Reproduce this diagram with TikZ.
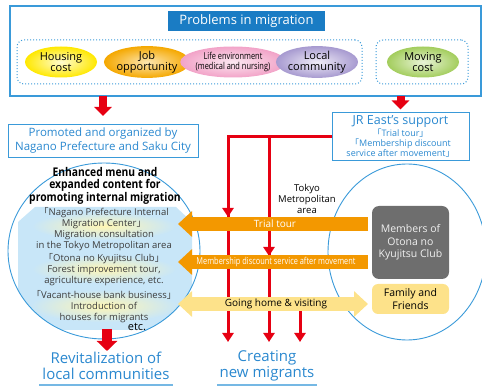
\documentclass[tikz,border=0pt]{standalone}
\usepackage{fontspec}
\setmainfont{Open Sans}
\newfontfamily\cjk{Noto Sans CJK JP}
\usetikzlibrary{arrows.meta,shapes.geometric,calc}
\definecolor{jblue}{HTML}{1A7CC4}
\definecolor{lineblue}{HTML}{3A9AD9}
\definecolor{tblue}{HTML}{2A88CF}
\definecolor{jred}{HTML}{E60012}
\definecolor{jorange}{HTML}{F39800}
\definecolor{jyellow}{HTML}{FDE28A}
\definecolor{lblue}{HTML}{C8E6F8}
\definecolor{jgray}{HTML}{6E6E6E}
\definecolor{dgray}{HTML}{3C3C3C}
\definecolor{hsO}{HTML}{FFE800}\definecolor{hsI}{HTML}{FFFCD0}
\definecolor{jbO}{HTML}{F5A800}\definecolor{jbI}{HTML}{FDE6B0}
\definecolor{lfO}{HTML}{F2A3C8}\definecolor{lfI}{HTML}{FCE8F1}
\definecolor{lcO}{HTML}{A79AD0}\definecolor{lcI}{HTML}{EFEBF7}
\definecolor{mvO}{HTML}{A3CD5D}\definecolor{mvI}{HTML}{E9F4D7}
\definecolor{glowY}{HTML}{FFF6B5}
\newcommand{\jlb}{{\cjk 「}}
\newcommand{\jrb}{{\cjk 」}}
\newcommand{\cond}[1]{\scalebox{0.78}[1]{#1}}
\newcommand{\condb}[1]{\scalebox{0.86}[1]{#1}}
\newcommand{\fs}[2]{\fontsize{#1}{#2}\selectfont}
\begin{document}
\begin{tikzpicture}[x=1pt,y=-1pt,
  every node/.style={inner sep=0pt, outer sep=0pt},
  bubble/.style={ellipse, minimum width=72pt, minimum height=31pt, align=center, shading=radial, font=\fs{11}{11.5}},
  dotbox/.style={draw=lineblue, dotted, line width=1pt, rounded corners=7pt},
  plainbox/.style={draw=lineblue, line width=0.9pt, align=center, text=tblue},
  redline/.style={draw=jred, line width=3pt},
  redtip/.style={-{Triangle[width=11pt,length=9pt]}},
  redblock/.style={draw=jred, line width=8pt, -{Triangle[width=17pt,length=9pt]}},
  orangebar/.style={draw=jorange, line width=14pt, -{Triangle[width=25pt,length=14pt]}},
  yellowbar/.style={draw=jyellow, line width=14pt, {Triangle[width=25pt,length=14pt]}-{Triangle[width=25pt,length=14pt]}},
  glow/.style={shading=radial, inner color=glowY, outer color=lblue},
  circtext/.style={align=center, text=dgray, font=\fs{9.5}{11}},
]
\useasboundingbox (0,0) rectangle (482,387);

% ---------- top box ----------
\node[draw=lineblue, line width=1.3pt, minimum width=471pt, minimum height=90pt] (topbox) at (245.5,51) {};
\node[fill=jblue, text=white, minimum width=157pt, minimum height=20pt, font=\fs{13}{14}] (title) at (246.5,21) {Problems in migration};
\node[dotbox, minimum width=345pt, minimum height=44pt] (grp1) at (189.5,62) {};
\node[dotbox, minimum width=92pt, minimum height=44pt] (grp2) at (422,62) {};

\node[bubble, inner color=hsI, outer color=hsO] (housing) at (61,62) {Housing\\cost};
\node[bubble, inner color=jbI, outer color=jbO] (job) at (147,62) {Job\\opportunity};
\node[bubble, minimum width=86pt, inner color=lfI, outer color=lfO, font=\fs{9.5}{10.5}] (life) at (233,62) {\cond{Life environment}\\\cond{(medical and nursing)}};
\node[bubble, inner color=lcI, outer color=lcO] (local) at (317,62) {Local\\community};
\node[bubble, inner color=mvI, outer color=mvO] (moving) at (423,62) {Moving\\cost};

% ---------- second row ----------
\node[plainbox, minimum width=190pt, minimum height=33pt, font=\fs{11.5}{14}] (prom) at (103,140.5) {Promoted and organized by\\Nagano Prefecture and Saku City};
\node[plainbox, minimum width=137pt, minimum height=48pt, font=\fs{9}{10}] (jr) at (400.5,136.5) {{\fs{12.5}{14}JR East’s support}\\[1pt]\jlb Trial tour\jrb\\\jlb Membership discount\\service after movement\jrb};

\draw[redblock] (topbox.south -| prom) -- ([yshift=8pt]prom.north);
\draw[redblock] (topbox.south -| jr) -- ([yshift=3pt]jr.north);

% ---------- left circle ----------
\node[ellipse, minimum width=192pt, minimum height=176pt] (lc) at (104,251) {};
\begin{scope}
\clip (lc.center) ellipse [x radius=96pt, y radius=88pt];
\fill[lblue] (35,207) -- (176,207) -- (192,222) -- (192,292) -- (168,330) -- (42,330) -- (18,305) -- (18,222) -- cycle;
\shade[glow] (104,226) ellipse [x radius=72pt, y radius=14pt];
\shade[glow] (104,269) ellipse [x radius=72pt, y radius=14pt];
\shade[glow] (104,306) ellipse [x radius=74pt, y radius=16pt];
\end{scope}
\draw[lineblue, line width=0.9pt] (lc.center) ellipse [x radius=96pt, y radius=88pt];

\node[align=center, font=\bfseries\fs{12}{11.5}] (head) at (105,186) {\condb{Enhanced menu and}\\\condb{expanded content for}\\\condb{promoting internal migration}};
\node[circtext] (g1) at (104,229.5) {\jlb Nagano Prefecture Internal\\Migration Center\jrb\\Migration consultation\\in the Tokyo Metropolitan area};
\node[circtext] (g2) at (104,270) {\jlb Otona no Kyujitsu Club\jrb\\Forest improvement tour,\\agriculture experience, etc.};
\node[circtext] (g3) at (104,307) {\jlb Vacant-house bank business\jrb\\Introduction of\\houses for migrants};
\node[font=\fs{11}{12}] (etc) at (137,327) {etc.};

% ---------- right circle ----------
\node[draw=lineblue, line width=0.9pt, ellipse, minimum width=158pt, minimum height=176pt] (rc) at (407,252) {};
\node[fill=jgray, rounded corners=7pt, minimum width=77pt, minimum height=73pt, text=white!88!gray, align=center, font=\fs{10.5}{12.5}] (members) at (410.5,242.5) {Members of\\Otona no\\Kyujitsu Club};
\node[fill=jyellow, rounded corners=6pt, minimum width=77pt, minimum height=30pt, align=center, font=\fs{10.5}{12.5}] (family) at (410.5,299) {Family and\\Friends};

\node[align=center, font=\fs{9.5}{11}] (tokyo) at (307,199) {Tokyo\\Metropolitan\\area};

% ---------- red lines ----------
\coordinate (c1) at (228,342);
\coordinate (c2) at (269,342);
\coordinate (c3) at (300,342);
\coordinate (s3) at (300,311);
\draw[redline, redtip] (jr.west) -| (c1);
\draw[redline, redtip] (jr.west -| c2) -- (c2);
\draw[redline, redtip] (s3) -- (c3);
\draw[redline, redtip] (jr.west -| c1) -- (228,217);
\draw[redline, redtip] (jr.west -| c2) -- (269,256);

% ---------- bars ----------
\coordinate (t1) at (368,224);
\coordinate (t2) at (178,224);
\coordinate (m1) at (368,262);
\coordinate (m2) at (178,262);
\coordinate (h1) at (178,304);
\draw[orangebar] (t1) -- (t2);
\draw[orangebar] (m1) -- (m2);
\draw[yellowbar] (h1) -- ([xshift=-4pt]family.west |- h1);
\node[text=white, font=\fs{10}{11}] (trial) at (275,224) {Trial tour};
\node[text=white, font=\fs{9.5}{11}] (memb) at (276,262) {\cond{Membership discount service after movement}};
\node[font=\fs{10}{11}] (going) at (276,304) {Going home \& visiting};

% ---------- bottom ----------
\coordinate (lcb) at (107,329);
\coordinate (rv) at (107,351);
\draw[draw=jred, line width=10pt, -{Triangle[width=20pt,length=10pt]}] (lcb) -- (rv);
\node[align=center, text=tblue, font=\fs{15}{15.5}] (revit) at (106,366) {Revitalization of\\local communities};
\node[align=center, text=tblue, font=\fs{15}{15.5}] (creating) at (267,366) {Creating\\new migrants};
\draw[lineblue!70, line width=2pt] (39,385) -- (173,385);
\draw[lineblue!70, line width=2pt] (217,385) -- (317,385);
\end{tikzpicture}
\end{document}
